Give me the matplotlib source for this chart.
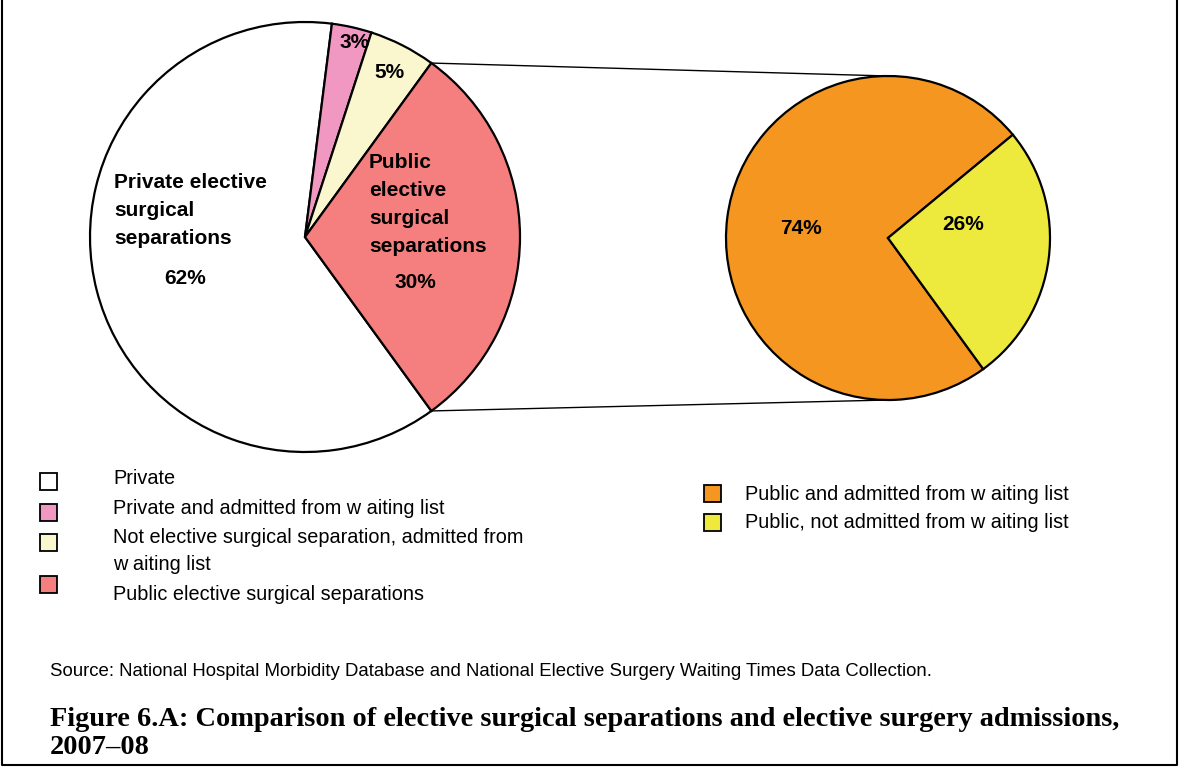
import numpy as np
import matplotlib.pyplot as plt
from matplotlib.patches import Rectangle

W, H = 1179, 767

# left pie: all separations / admissions
left_labels = ['Private', 'Private and admitted from w aiting list',
               'Not elective surgical separation, admitted from\nw aiting list',
               'Public elective surgical separations']
left_values = [62, 3, 5, 30]
left_colors = ['#FFFFFF', '#F198C2', '#FAF6CE', '#F47F7E']

# right pie: breakdown of public elective surgical separations
right_labels = ['Public and admitted from w aiting list',
                'Public, not admitted from w aiting list']
right_values = [74, 26]
right_colors = ['#F4961F', '#EEEA3D']

source = 'Source: National Hospital Morbidity Database and National Elective Surgery Waiting Times Data Collection.'
caption1 = 'Figure 6.A: Comparison of elective surgical separations and elective surgery admissions,'
caption2 = '2007\u201308'

plt.rcParams['font.family'] = ['Liberation Sans', 'DejaVu Sans']

fig = plt.figure(figsize=(W / 100, H / 100), dpi=100)
ax = fig.add_axes([0, 0, 1, 1])


def Y(y):
    # image-style y (from the top) to data y
    return H - y


c1 = (305, Y(237))
r1 = 215
c2 = (888, Y(238))
r2 = 162

wp = dict(edgecolor='black', linewidth=1.6)
ax.pie(left_values, colors=left_colors, center=c1, radius=r1,
       startangle=-54, counterclock=False, wedgeprops=wp, frame=True)
ax.pie(right_values, colors=right_colors, center=c2, radius=r2,
       startangle=-54, counterclock=False, wedgeprops=wp, frame=True)

# connector lines from the public slice edges to the second pie
ang = np.deg2rad(54)
ax.plot([c1[0] + r1 * np.cos(ang), c2[0]], [c1[1] + r1 * np.sin(ang), c2[1] + r2],
        color='black', lw=1.0, zorder=0)
ax.plot([c1[0] + r1 * np.cos(ang), c2[0]], [c1[1] - r1 * np.sin(ang), c2[1] - r2],
        color='black', lw=1.0, zorder=0)

lbl = dict(fontsize=15, fontweight='bold', color='black', linespacing=1.6)
ax.text(114, Y(210), 'Private elective\nsurgical\nseparations', ha='left', va='center', **lbl)
ax.text(185, Y(279), '%d%%' % left_values[0], ha='center', va='center', **lbl)
ax.text(369, Y(204), 'Public\nelective\nsurgical\nseparations', ha='left', va='center', **lbl)
ax.text(415, Y(282), '%d%%' % left_values[3], ha='center', va='center', **lbl)
ax.text(355, Y(43), '%d%%' % left_values[1], ha='center', va='center', **lbl)
ax.text(389, Y(73), '%d%%' % left_values[2], ha='center', va='center', **lbl)
ax.text(801, Y(229), '%d%%' % right_values[0], ha='center', va='center', **lbl)
ax.text(963, Y(224), '%d%%' % right_values[1], ha='center', va='center', **lbl)

# left legend
sq = 17
left_sq_y = [481, 512, 542, 584]
left_txt_y = [478, 508, 551, 595]
for lab, col, sy, ty in zip(left_labels, left_colors, left_sq_y, left_txt_y):
    ax.add_patch(Rectangle((48 - sq / 2, Y(sy) - sq / 2), sq, sq, facecolor=col,
                           edgecolor='black', lw=1.3))
    ax.text(113, Y(ty), lab, fontsize=14.3, ha='left', va='center', linespacing=1.58)

# right legend
for i, (lab, col) in enumerate(zip(right_labels, right_colors)):
    ax.add_patch(Rectangle((712 - sq / 2, Y(493 + 29 * i) - sq / 2), sq, sq, facecolor=col,
                           edgecolor='black', lw=1.3))
    ax.text(745, Y(494 + 29 * i), lab, fontsize=14.3, ha='left', va='center')

ax.text(50, Y(672), source, fontsize=13.4, ha='left', va='center')
ax.text(50, Y(720), caption1, fontsize=20.4, fontweight='bold', family='Liberation Serif',
        ha='left', va='center')
ax.text(50, Y(748), caption2, fontsize=20.4, fontweight='bold', family='Liberation Serif',
        ha='left', va='center')

# page frame
ax.plot([2, 2, W - 2, W - 2], [H, 2, 2, H], color='black', lw=1.5, clip_on=False)

ax.set_xlim(0, W)
ax.set_ylim(0, H)
ax.set_aspect('equal')
ax.axis('off')

fig.savefig('out.png', dpi=100)
